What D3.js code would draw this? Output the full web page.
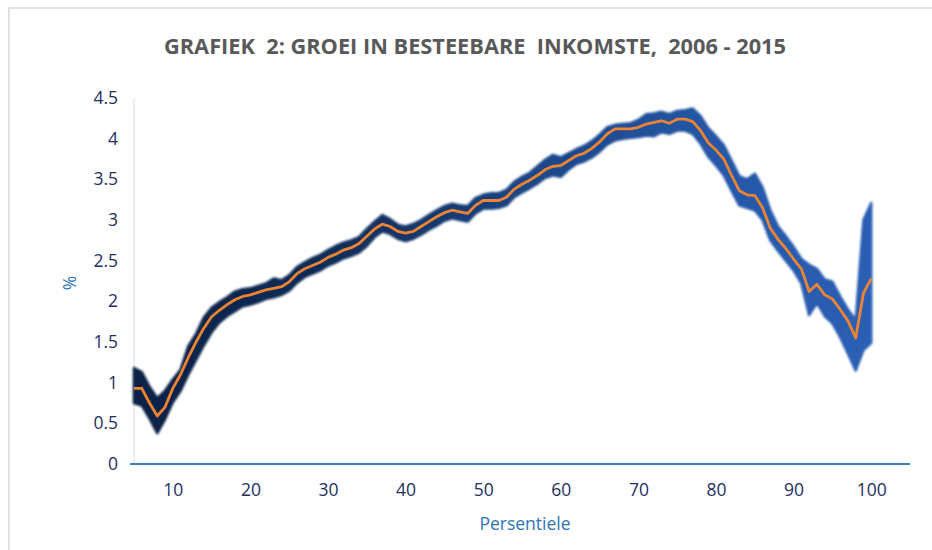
<!DOCTYPE html>
<html><head><meta charset="utf-8">
<script src="https://cdn.jsdelivr.net/npm/d3@7"></script>
<style>
html,body{margin:0;padding:0;background:#fff;}
svg{display:block;font-family:"Open Sans",sans-serif;}
</style></head>
<body><svg id="chart" width="932" height="550"></svg>
<script>
const title = "GRAFIEK  2: GROEI IN BESTEEBARE  INKOMSTE,  2006 - 2015";
const xLabel = "Persentiele";
const yLabel = "%";
const xTicks = [10,20,30,40,50,60,70,80,90,100];
const yTicks = [0,0.5,1,1.5,2,2.5,3,3.5,4,4.5];

const percentiles = d3.range(5,101);
const growth = [0.93,0.93,0.75,0.59,0.70,0.93,1.10,1.31,1.50,1.67,1.81,1.89,1.96,2.02,2.06,2.08,2.11,2.14,2.16,2.18,
  2.24,2.34,2.40,2.44,2.48,2.54,2.58,2.63,2.66,2.71,2.80,2.89,2.95,2.92,2.86,2.84,2.86,2.92,2.98,3.04,
  3.09,3.12,3.10,3.08,3.18,3.24,3.24,3.24,3.28,3.38,3.44,3.49,3.55,3.62,3.66,3.67,3.73,3.79,3.82,3.88,
  3.96,4.06,4.12,4.12,4.12,4.14,4.18,4.20,4.22,4.19,4.24,4.24,4.21,4.10,3.95,3.86,3.75,3.55,3.36,3.31,
  3.30,3.15,2.90,2.76,2.65,2.52,2.40,2.12,2.21,2.08,2.03,1.90,1.76,1.55,2.10,2.28];
const upper = [1.18,1.13,0.95,0.81,0.90,1.04,1.16,1.45,1.60,1.80,1.92,1.99,2.05,2.12,2.15,2.16,2.19,2.22,2.28,2.26,
  2.32,2.42,2.48,2.53,2.57,2.63,2.68,2.72,2.75,2.79,2.89,2.98,3.06,3.01,2.94,2.92,2.95,3.00,3.06,3.12,
  3.17,3.20,3.18,3.17,3.27,3.31,3.33,3.33,3.37,3.47,3.53,3.58,3.66,3.74,3.80,3.77,3.82,3.87,3.91,3.97,
  4.05,4.14,4.17,4.18,4.19,4.23,4.30,4.31,4.33,4.30,4.34,4.35,4.37,4.28,4.13,4.03,3.92,3.73,3.54,3.50,
  3.57,3.40,3.12,2.92,2.80,2.67,2.52,2.45,2.40,2.27,2.24,2.06,1.90,1.77,3.00,3.21];
const lower = [0.75,0.72,0.56,0.38,0.55,0.76,0.90,1.10,1.28,1.46,1.62,1.74,1.82,1.88,1.94,1.96,1.99,2.03,2.05,2.08,
  2.13,2.23,2.30,2.34,2.38,2.44,2.48,2.53,2.56,2.60,2.68,2.79,2.86,2.83,2.77,2.74,2.77,2.82,2.88,2.93,
  2.99,3.02,3.00,2.98,3.08,3.14,3.14,3.15,3.18,3.28,3.34,3.39,3.45,3.52,3.55,3.53,3.62,3.69,3.72,3.77,
  3.84,3.93,3.98,4.00,4.01,4.02,4.04,4.03,4.08,4.06,4.10,4.10,4.06,3.94,3.78,3.67,3.55,3.36,3.18,3.15,
  3.12,3.00,2.75,2.62,2.50,2.38,2.22,1.83,1.98,1.82,1.73,1.56,1.36,1.15,1.40,1.49];

const data = percentiles.map((p,i)=>({p, v:growth[i], hi:upper[i], lo:lower[i]}));

const svg = d3.select("#chart");
const x = d3.scaleLinear().domain([5,105]).range([134,910]);
const y = d3.scaleLinear().domain([0,4.5]).range([464,98]);

// frame
svg.append("path").attr("d","M9,550V8H932").attr("fill","none").attr("stroke","#d9d9d9").attr("stroke-width",1.5);

const defs = svg.append("defs");
const grad = defs.append("linearGradient").attr("id","bandGrad")
  .attr("gradientUnits","userSpaceOnUse").attr("x1",134).attr("x2",872).attr("y1",0).attr("y2",0);
[[0,"#0b2145"],[0.3,"#122f5c"],[0.55,"#1c4788"],[0.8,"#2658a8"],[1,"#2b5fb5"]].forEach(s=>
  grad.append("stop").attr("offset",s[0]).attr("stop-color",s[1]));
defs.append("filter").attr("id","soft").attr("x","-5%").attr("y","-5%").attr("width","110%").attr("height","110%")
  .append("feGaussianBlur").attr("stdDeviation",1.2);

// title
svg.append("text").attr("x",475).attr("y",54).attr("text-anchor","middle")
  .attr("font-size",21).attr("font-weight","bold").attr("fill","#595959")
  .style("white-space","pre").attr("textLength",622).attr("lengthAdjust","spacingAndGlyphs")
  .text(title);

// y axis faint line
svg.append("line").attr("x1",134).attr("x2",134).attr("y1",y(4.5)).attr("y2",y(0))
  .attr("stroke","#d6dde9").attr("stroke-width",1);

const yAxis = svg.append("g").attr("transform","translate(118,0)")
  .call(d3.axisLeft(y).tickValues(yTicks).tickSize(0).tickPadding(0).tickFormat(d3.format("")));
yAxis.select(".domain").remove();
yAxis.selectAll("text").attr("font-size",17.5).attr("fill","#1f2f5e").attr("font-family","'Open Sans',sans-serif");

const xAxis = svg.append("g").attr("transform","translate(0,484)")
  .call(d3.axisBottom(x).tickValues(xTicks).tickSize(0).tickPadding(0).tickFormat(d3.format("")));
xAxis.select(".domain").remove();
xAxis.selectAll("text").attr("font-size",17.5).attr("fill","#1f2f5e").attr("font-family","'Open Sans',sans-serif");

// band
svg.append("path").datum(data)
  .attr("d", d3.area().x(d=>x(d.p)).y0(d=>y(d.lo)).y1(d=>y(d.hi)))
  .attr("fill","url(#bandGrad)").attr("stroke","url(#bandGrad)").attr("stroke-width",2.5)
  .attr("stroke-linejoin","round").attr("filter","url(#soft)");

// x axis line
svg.append("line").attr("x1",130).attr("x2",910).attr("y1",y(0)).attr("y2",y(0))
  .attr("stroke","#3a80c6").attr("stroke-width",2);

// line
svg.append("path").datum(data)
  .attr("d", d3.line().x(d=>x(d.p)).y(d=>y(d.v)))
  .attr("fill","none").attr("stroke","#ee8433").attr("stroke-width",2.8).attr("stroke-linejoin","round");

// axis titles
svg.append("text").attr("x",525).attr("y",530).attr("text-anchor","middle")
  .attr("font-size",17.5).attr("fill","#2e75b6").text(xLabel);
svg.append("text").attr("transform","translate(76,283) rotate(-90)").attr("text-anchor","middle")
  .attr("font-size",17.5).attr("fill","#2e75b6").text(yLabel);
</script></body></html>
